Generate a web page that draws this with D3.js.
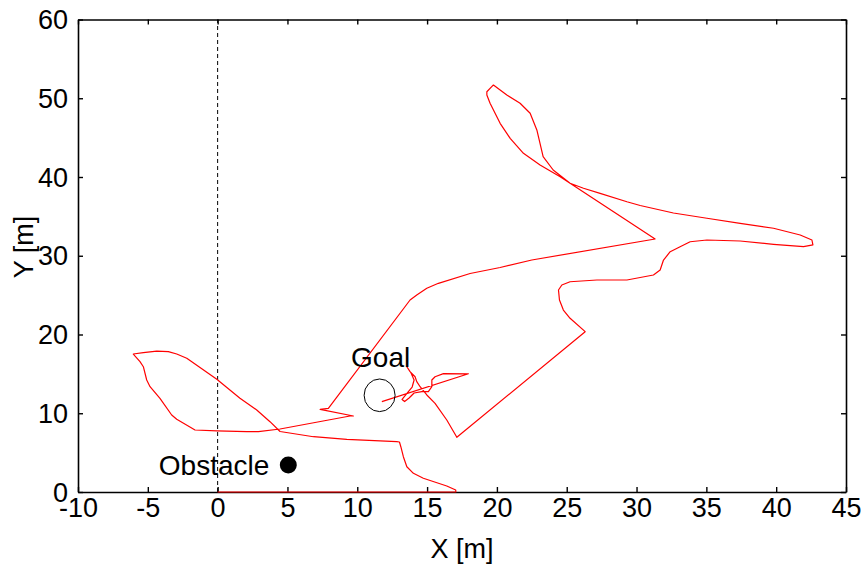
<!DOCTYPE html>
<html><head><meta charset="utf-8">
<script src="https://cdn.jsdelivr.net/npm/d3@7"></script>
<style>
html,body{margin:0;padding:0;background:#fff;}
svg{display:block;font-family:"Liberation Sans",Arial,Helvetica,sans-serif;}
</style></head>
<body>
<svg id="chart" width="867" height="571"></svg>
<script>
// ---- data ----
const xTicks = [-10,-5,0,5,10,15,20,25,30,35,40,45];
const yTicks = [0,10,20,30,40,50,60];
const xDomain = [-10,45];
const yDomain = [0,60];
const xLabel = "X [m]";
const yLabel = "Y [m]";

// robot trajectory (x, y in metres)
const pathX = [0,17.06,17.05,16.41,14.73,14.02,13.55,13.30,13.12,13.02,12.83,11.63,9.25,6.86,4.47,
  3.75,2.80,1.60,-0.06,-2.21,-2.93,-3.53,-4.36,-5.32,-6.04,
  -5.56,-5.32,-5.08,-4.84,-4.13,-3.29,-2.93,-1.62,-0.06,2.08,2.92,4.47,9.48,9.72,7.34,7.93,
  13.78,14.26,14.98,15.81,18.08,20.23,22.50,31.33,
  25.24,24.03,23.31,22.86,22.38,21.66,20.71,19.75,19.63,19.28,19.28,19.51,20.23,20.95,21.90,23.09,24.53,25.24,
  26.20,27.39,29.31,30.26,32.64,35.04,37.42,39.81,41.72,42.56,42.63,41.96,39.81,37.42,35.04,33.84,33.12,32.41,
  31.93,31.69,31.21,29.31,27.16,25.24,24.65,24.41,24.48,24.76,25.24,26.32,17.13,
  16.41,15.57,14.98,14.50,14.26,14.14,13.78,13.55,
  13.85,14.07,13.93,13.57,13.21,13.39,13.71,14.07,14.62,15.09,15.34,15.34,15.57,16.17,17.96,11.76];
const pathY = [0,0,0.25,0.76,1.74,2.37,3.21,4.48,5.75,6.35,6.39,6.48,6.69,7.02,7.68,
  8.93,10.41,11.90,14.31,16.98,17.52,17.82,17.90,17.69,17.52,
  16.55,15.91,14.22,13.37,11.90,9.78,9.23,7.87,7.75,7.66,7.66,8.00,9.65,9.65,10.50,10.63,
  24.38,25.02,25.87,26.50,27.75,28.51,29.46,32.13,
  39.20,40.89,42.58,45.97,48.09,49.36,50.41,51.68,51.47,50.83,50.41,49.36,46.82,44.91,43.01,41.52,40.04,39.20,
  38.57,37.93,36.86,36.38,35.43,34.76,34.12,33.49,32.63,32.00,31.37,31.15,31.45,31.87,32.00,31.78,31.15,30.51,
  29.46,28.19,27.56,26.92,26.92,26.70,26.29,25.65,24.38,23.11,22.06,20.36,6.95,
  9.14,11.26,12.32,13.37,14.01,14.64,15.28,15.91,
  15.11,14.22,13.33,12.57,11.75,11.49,11.94,12.57,12.74,12.74,13.37,14.22,14.64,15.03,15.01,11.47];

const goal = [11.6, 12.28];
const obstacle = [5.06, 3.43];
const goalText = "Goal";
const obstacleText = "Obstacle";

// ---- layout ----
const W = 867, H = 571;
const m = {left:78, top:19.5, right:21, bottom:79};
const svg = d3.select("#chart");
const x = d3.scaleLinear().domain(xDomain).range([m.left, W - m.right]);
const y = d3.scaleLinear().domain(yDomain).range([H - m.bottom, m.top]);
const fs = 27;
const fmt = d => String(d);

// dashed x=0 line
svg.append("line")
  .attr("x1", x(0)).attr("x2", x(0))
  .attr("y1", y(yDomain[0])).attr("y2", y(yDomain[1]))
  .attr("stroke", "#000").attr("stroke-width", 1)
  .attr("stroke-dasharray", "4,3");

// axes with inward ticks
const tl = 5;
const gB = svg.append("g").attr("transform", `translate(0,${y(0)})`)
  .call(d3.axisBottom(x).tickValues(xTicks).tickSizeInner(-tl).tickSizeOuter(0).tickPadding(6).tickFormat(fmt));
const gT = svg.append("g").attr("transform", `translate(0,${y(60)})`)
  .call(d3.axisTop(x).tickValues(xTicks).tickSizeInner(-tl).tickSizeOuter(0).tickFormat(""));
const gL = svg.append("g").attr("transform", `translate(${x(-10)},0)`)
  .call(d3.axisLeft(y).tickValues(yTicks).tickSizeInner(-tl).tickSizeOuter(0).tickPadding(10).tickFormat(fmt));
const gR = svg.append("g").attr("transform", `translate(${x(45)},0)`)
  .call(d3.axisRight(y).tickValues(yTicks).tickSizeInner(-tl).tickSizeOuter(0).tickFormat(""));
[gB,gT,gL,gR].forEach(g => {
  g.selectAll(".domain").attr("stroke","#000").attr("stroke-width",1.6);
  g.selectAll(".tick line").attr("stroke","#000").attr("stroke-width",1.4);
  g.selectAll("text").attr("font-size", fs).attr("fill","#000")
    .attr("font-family", '"Liberation Sans",Arial,sans-serif');
});
gB.selectAll("text").attr("dy", "0.71em");
gL.selectAll("text").attr("dy", "0.34em");

// trajectory
const pts = pathX.map((v,i) => [v, pathY[i]]);
svg.append("path")
  .datum(pts)
  .attr("fill","none").attr("stroke","#ff0000").attr("stroke-width",1.2)
  .attr("stroke-linejoin","round")
  .attr("d", d3.line().x(d => x(d[0])).y(d => y(d[1])));

// goal circle
svg.append("ellipse")
  .attr("cx", x(goal[0])).attr("cy", y(goal[1]))
  .attr("rx", 15.5).attr("ry", 16.3)
  .attr("fill","none").attr("stroke","#000").attr("stroke-width",1);
svg.append("text")
  .attr("x", x(goal[0]) + 1).attr("y", y(goal[1]) - 28)
  .attr("text-anchor","middle").attr("font-size", 28).text(goalText);

// obstacle
svg.append("circle")
  .attr("cx", x(obstacle[0])).attr("cy", y(obstacle[1]))
  .attr("r", 8.5).attr("fill","#000");
svg.append("text")
  .attr("x", x(obstacle[0]) - 19).attr("y", y(obstacle[1]) + 10)
  .attr("text-anchor","end").attr("font-size", 28).text(obstacleText);

// axis labels
svg.append("text")
  .attr("x", (m.left + W - m.right)/2).attr("y", 558)
  .attr("text-anchor","middle").attr("font-size", 27).text(xLabel);
svg.append("text")
  .attr("transform", `translate(33,247) rotate(-90)`)
  .attr("text-anchor","middle").attr("font-size", 27).text(yLabel);
</script>
</body></html>
